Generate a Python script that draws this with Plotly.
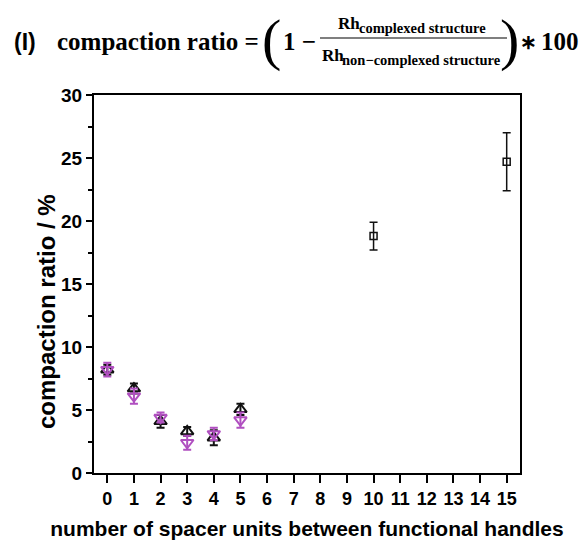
import plotly.graph_objects as go

# ---- data ----
x_short = [0, 1, 2, 3, 4, 5]
tri_up_y = [8.2, 6.7, 4.1, 3.3, 2.8, 5.05]
tri_up_err = [0.4, 0.4, 0.5, 0.35, 0.6, 0.45]
tri_down_y = [8.2, 6.1, 4.4, 2.4, 3.1, 4.2]
tri_down_err = [0.55, 0.6, 0.4, 0.55, 0.5, 0.6]
x_long = [10, 15]
square_y = [18.8, 24.7]
square_err = [1.1, 2.3]
x_ticks = list(range(16))
y_ticks = [0, 5, 10, 15, 20, 25, 30]

BLACK = "#111111"
PURPLE = "#b04fc0"

fig = go.Figure()
fig.add_trace(go.Scatter(
    x=x_short, y=tri_up_y, mode="markers",
    marker=dict(symbol="triangle-up-open", size=11, color=BLACK, line=dict(width=2)),
    error_y=dict(type="data", array=tri_up_err, color=BLACK, thickness=2, width=4),
))
fig.add_trace(go.Scatter(
    x=x_short, y=tri_down_y, mode="markers",
    marker=dict(symbol="triangle-down-open", size=11, color=PURPLE, line=dict(width=2)),
    error_y=dict(type="data", array=tri_down_err, color=PURPLE, thickness=2, width=4),
))
fig.add_trace(go.Scatter(
    x=x_long, y=square_y, mode="markers",
    marker=dict(symbol="square-open", size=7, color=BLACK, line=dict(width=1.5)),
    error_y=dict(type="data", array=square_err, color=BLACK, thickness=1.5, width=4),
))

L, R, T, B = 94, 61, 95, 71
W, H = 581, 544
pw, ph = W - L - R, H - T - B


def px(xp):
    return (xp - L) / pw


def py(yp):
    return (H - B - yp) / ph


sans = "Liberation Sans"
serif = "Liberation Serif"


def ann(text, x, y, family, size, anchor="left", weight="bold", angle=0):
    return dict(text=text, x=px(x), y=py(y), xref="paper", yref="paper",
                showarrow=False, xanchor=anchor, yanchor="middle", textangle=angle,
                font=dict(family=family, size=size, color="black", weight=weight))


anns = [
    ann("(I)", 12, 42, sans, 23),
    ann("compaction ratio =", 55, 42, serif, 25),
    ann("(", 271, 40, serif, 58, "center", "normal"),
    ann("1 −", 281, 42, serif, 25),
    ann("Rh", 336, 24, serif, 17),
    ann("complexed structure", 357, 28, serif, 14.5),
    ann("Rh", 320, 55, serif, 17),
    ann("non−complexed structure", 340, 60, serif, 14.5),
    ann(")", 509, 40, serif, 58, "center", "normal"),
    ann("∗", 518, 42, serif, 20),
    ann("100", 539, 42, serif, 25),
    ann("compaction ratio / %", 46, 312, sans, 24, "center", "bold", -90),
]

fig.update_layout(
    width=W, height=H,
    margin=dict(l=L, r=R, t=T, b=B),
    paper_bgcolor="white", plot_bgcolor="white",
    showlegend=False,
    annotations=anns,
    shapes=[dict(type="line", xref="paper", yref="paper", x0=px(320), x1=px(507),
                 y0=py(38), y1=py(38), line=dict(color="black", width=1.2))],
    xaxis=dict(
        range=[-0.5, 15.5], tickvals=x_ticks, ticktext=[str(v) for v in x_ticks],
        ticks="outside", ticklen=8, tickwidth=2, tickcolor="black",
        showline=True, linecolor="black", linewidth=2, mirror=True,
        showgrid=False, zeroline=False, automargin=False,
        tickfont=dict(family=sans, size=18, color="black", weight="bold"),
        title=dict(text="number of spacer units between functional handles",
                   font=dict(family=sans, size=21, color="black", weight="bold"), standoff=14),
    ),
    yaxis=dict(
        range=[0, 30], tickvals=y_ticks,
        ticks="outside", ticklen=6, tickwidth=2, tickcolor="black",
        minor=dict(dtick=2.5, tick0=0, ticks="outside", ticklen=4, tickwidth=2, tickcolor="black"),
        showline=True, linecolor="black", linewidth=2, mirror=True,
        showgrid=False, zeroline=False, automargin=False,
        tickfont=dict(family=sans, size=19, color="black", weight="bold"),
    ),
)

fig.write_html("out.html", config={"displayModeBar": False},
               post_script="document.body.style.margin='0';")
